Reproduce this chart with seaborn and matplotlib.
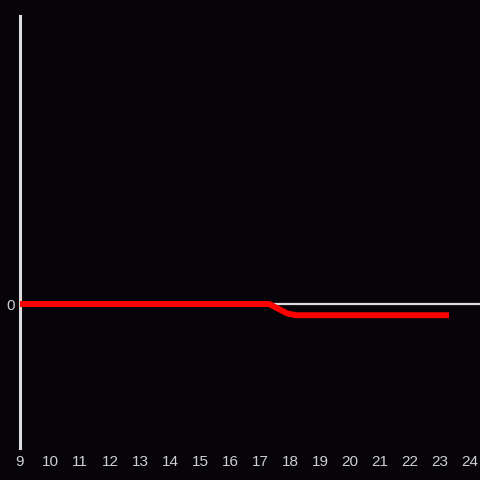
import pandas as pd
import matplotlib
matplotlib.use("Agg")
import matplotlib.pyplot as plt
import seaborn as sns

# Data
hours = [9, 17.3, 17.9, 18.2, 23.2]
values = [0, 0, -0.065, -0.078, -0.078]
x_ticks = list(range(9, 25))

BG = "#060408"
AXIS = "#dcdcdc"

sns.set_theme(style="dark")
plt.rcParams["font.family"] = ["Liberation Sans", "DejaVu Sans"]

fig = plt.figure(figsize=(4.8, 4.8), dpi=100, facecolor=BG)
ax = fig.add_axes([20 / 480, 32 / 480, 460 / 480, 432 / 480])
ax.set_facecolor(BG)

df = pd.DataFrame({"hour": hours, "value": values})

# zero reference line
ax.axhline(0, color=AXIS, lw=1.6, zorder=1)

sns.lineplot(data=df, x="hour", y="value", ax=ax, color="#ff0000", lw=4.3,
             solid_capstyle="projecting", solid_joinstyle="round", zorder=3)

ax.set_xlim(9, 24.33)
ax.set_ylim(-1, 2)
ax.set_xticks(x_ticks)
ax.set_xticklabels([str(t) for t in x_ticks])
ax.set_yticks([0])
ax.set_yticklabels(["0"])
ax.set_xlabel("")
ax.set_ylabel("")
ax.grid(False)

for side in ["top", "right", "bottom"]:
    ax.spines[side].set_visible(False)
ax.spines["left"].set_color(AXIS)
ax.spines["left"].set_linewidth(2.2)

ax.tick_params(axis="both", length=0, colors="#cfcfcf", labelsize=11)
ax.tick_params(axis="x", pad=5)
ax.tick_params(axis="y", pad=4)

plt.savefig("out.png", dpi=100, facecolor=BG)
plt.close()
